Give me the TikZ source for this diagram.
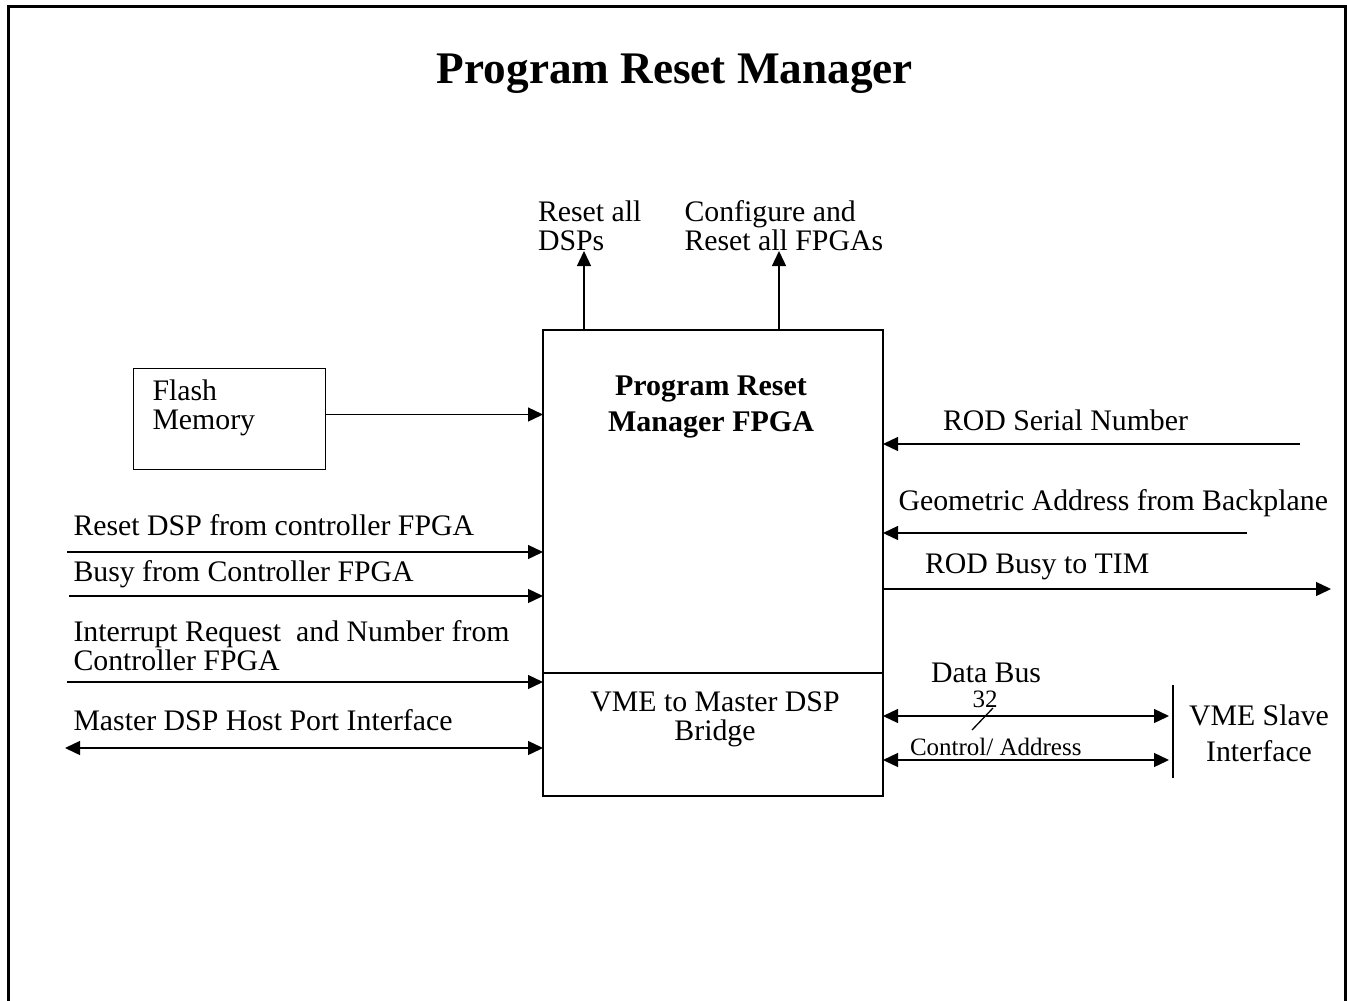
\documentclass[tikz,border=0pt]{standalone}
\usepackage{fontspec}
\setmainfont{Liberation Serif}
\usetikzlibrary{arrows.meta}
\begin{document}
\begin{tikzpicture}[x=1pt,y=-1pt,
  ln/.style={line width=1.3pt},
  arr/.style={ln,-{Triangle[length=15pt,width=14pt]}},
  darr/.style={ln,{Triangle[length=15pt,width=14pt]}-{Triangle[length=15pt,width=14pt]}},
  txt/.style={font=\fontsize{29.8}{30}\selectfont, inner sep=0pt, outer sep=0pt},
  lft/.style={txt, anchor=base west},
  ctr/.style={txt, anchor=base},
  bctr/.style={font=\bfseries\fontsize{30}{31}\selectfont, inner sep=0pt, outer sep=0pt, anchor=base},
  smalltxt/.style={font=\fontsize{25}{26}\selectfont, inner sep=0pt, outer sep=0pt},
  boxshape/.style={draw, line width=1.3pt, inner sep=0pt, outer sep=0pt, anchor=north west}]
\useasboundingbox (0,0) rectangle (1347,1001);
% outer frame
\draw[line width=3pt] (8,1001) -- (8,6) -- (1345.5,6) -- (1345.5,1001);

% title
\node[font=\bfseries\fontsize{45.2}{47}\selectfont, inner sep=0pt, anchor=base] (title) at (675,83.5) {Program Reset Manager};

% boxes
\node[boxshape, minimum width=340pt, minimum height=343pt] (prm) at (543,330) {};
\node[boxshape, minimum width=340pt, minimum height=123pt] (vme) at (543,673) {};
\node[boxshape, minimum width=192pt, minimum height=101pt] (flash) at (133.5,368.5) {};

% box texts
\node[bctr] (prmt1) at (711,395) {Program Reset};
\node[bctr] (prmt2) at (711,431.5) {Manager FPGA};
\node[ctr] (vmet1) at (715,711.5) {VME to Master DSP};
\node[ctr] (vmet2) at (715,740) {Bridge};
\node[lft] (flt1) at (152.5,400) {Flash};
\node[lft] (flt2) at (152.5,429) {Memory};

% top outputs
\coordinate (dspout) at (584,251);
\coordinate (fpgaout) at (779,251);
\draw[arr] (dspout |- prm.north) -- (dspout);
\draw[arr] (fpgaout |- prm.north) -- (fpgaout);
\node[lft] (dspl1) at (538,221) {Reset all};
\node[lft] (dspl2) at (538,250) {DSPs};
\node[lft] (fpgal1) at (684.5,221) {Configure and};
\node[lft] (fpgal2) at (684.5,250) {Reset all FPGAs};

% flash to prm
\draw[arr] ([yshift=4.5pt]flash.east) -- ([yshift=4.5pt]flash.east -| prm.west);

% left inputs
\coordinate (in1) at (67,552);
\coordinate (in2) at (69,596);
\coordinate (in3) at (67,682);
\coordinate (in4) at (65,748);
\draw[arr] (in1) -- (in1 -| prm.west);
\draw[arr] (in2) -- (in2 -| prm.west);
\draw[arr] (in3) -- (in3 -| vme.west);
\draw[darr] (in4) -- (in4 -| vme.west);
\node[lft] (inl1) at (73.5,535) {Reset DSP from controller FPGA};
\node[lft] (inl2) at (73.5,581.5) {Busy from Controller FPGA};
\node[lft] (inl3a) at (73.5,641.5) {Interrupt Request\ \ and Number from};
\node[lft] (inl3b) at (73.5,670) {Controller FPGA};
\node[lft] (inl4) at (73.5,730) {Master DSP Host Port Interface};

% right side
\coordinate (sn) at (1300,444);
\coordinate (ga) at (1247,533);
\coordinate (tim) at (1331,589);
\draw[arr] (sn) -- (sn -| prm.east);
\draw[arr] (ga) -- (ga -| prm.east);
\draw[arr] (tim -| prm.east) -- (tim);
\node[lft] (snl) at (943,430) {ROD Serial Number};
\node[lft] (gal) at (898.5,510) {Geometric Address from Backplane};
\node[lft] (timl) at (925,573) {ROD Busy to TIM};

% VME slave interface
\coordinate (vsTop) at (1173,685);
\coordinate (vsBot) at (1173,778);
\draw[ln] (vsTop) -- (vsBot);
\coordinate (db) at (1169,716);
\coordinate (ca) at (1169,760);
\draw[darr] (db -| vme.east) -- (db);
\draw[darr] (ca -| vme.east) -- (ca);
\draw[ln] (972,730) -- (993,708);
\node[lft] (dbl) at (931,682) {Data Bus};
\node[smalltxt, anchor=base] (w32) at (985,707) {32};
\node[smalltxt, anchor=base west] (cal) at (910,755) {Control/ Address};
\node[ctr] (vs1) at (1259,725) {VME Slave};
\node[ctr] (vs2) at (1259,761.5) {Interface};
\end{tikzpicture}
\end{document}
